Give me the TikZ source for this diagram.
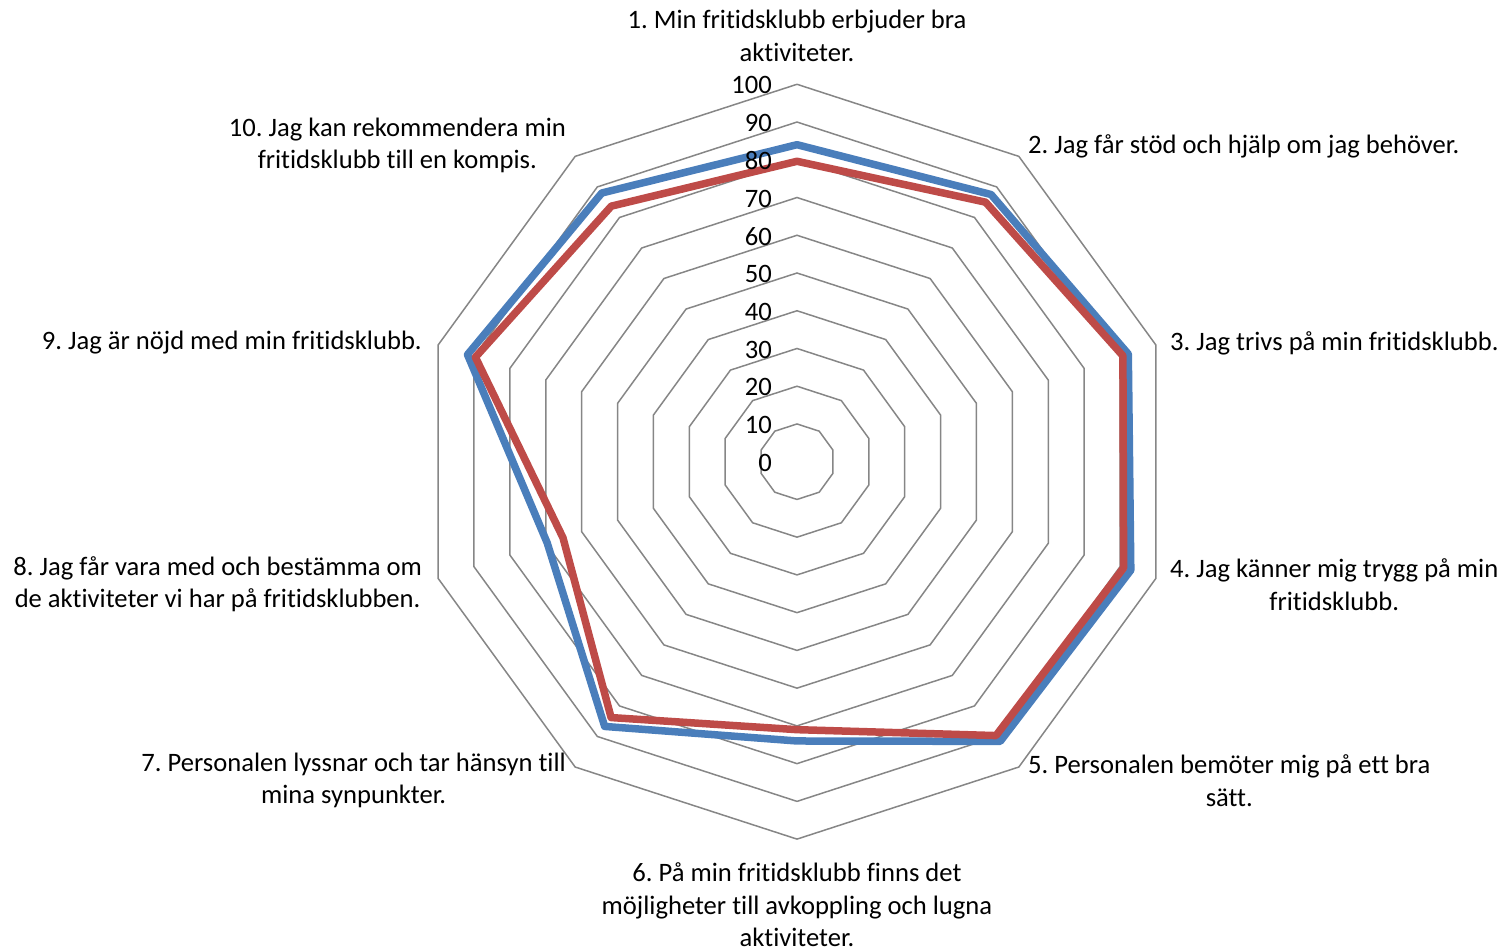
\documentclass[tikz,border=0pt]{standalone}
\usepackage{fontspec}
\setmainfont{Carlito}[Ligatures={NoCommon}]
\frenchspacing
\definecolor{gridgray}{HTML}{868686}
\definecolor{serblue}{HTML}{4A7EBB}
\definecolor{serred}{HTML}{BE4B48}
\begin{document}
\begin{tikzpicture}[x=1pt,y=-1pt,
  ring/.style={draw=gridgray,line width=1.5pt},
  series/.style={line width=7.5pt,line join=round},
  lbl/.style={font=\fontsize{26.6}{32.4}\selectfont,align=center,inner sep=0pt},
  tick/.style={font=\fontsize{26.6}{32.4}\selectfont,anchor=east,inner sep=0pt}]
\useasboundingbox (0,0) rectangle (1508,950);
\begin{scope}[shift={(797,461.7)}]
  \foreach \k in {1,...,10}{
    \draw[ring] (-90:{\k*37.74}) \foreach \i in {1,...,9}{ -- (-90+36*\i:{\k*37.74})} -- cycle;
  }
  \foreach \v [count=\i] in {84,87.5,92.3,93,91.6,74,86.7,69.6,91.8,88}
    \coordinate (b\i) at (-126+36*\i:{\v*3.774});
  \foreach \v [count=\i] in {79.6,85,90.8,91,89.7,71,83.8,65.2,89.6,83.7}
    \coordinate (r\i) at (-126+36*\i:{\v*3.774});
  \draw[series,serblue] (b1)--(b2)--(b3)--(b4)--(b5)--(b6)--(b7)--(b8)--(b9)--(b10)--cycle;
  \draw[series,serred] (r1)--(r2)--(r3)--(r4)--(r5)--(r6)--(r7)--(r8)--(r9)--(r10)--cycle;
  \foreach \k in {0,...,10}{
    \pgfmathtruncatemacro\lab{\k*10}
    \node[tick] (t\k) at (-25,{-\k*37.74+1}) {\lab};
  }
\end{scope}
\node[lbl] (l1) at (797,36) {1. Min fritidsklubb erbjuder bra\\aktiviteter.};
\node[lbl,anchor=west] (l2) at (1028,146) {2. Jag får stöd och hjälp om jag behöver.};
\node[lbl,anchor=west] (l3) at (1170,343) {3. Jag trivs på min fritidsklubb.};
\node[lbl,anchor=west] (l4) at (1170,584.5) {4. Jag känner mig trygg på min\\fritidsklubb.};
\node[lbl,anchor=west] (l5) at (1028,780.5) {5. Personalen bemöter mig på ett bra\\sätt.};
\node[lbl] (l6) at (797,905) {6. På min fritidsklubb finns det\\möjligheter till avkoppling och lugna\\aktiviteter.};
\node[lbl,anchor=east] (l7) at (566,780.5) {7. Personalen lyssnar och tar hänsyn till\\mina synpunkter.};
\node[lbl,anchor=east] (l8) at (422,584.5) {8. Jag får vara med och bestämma om\\de aktiviteter vi har på fritidsklubben.};
\node[lbl,anchor=east] (l9) at (422,343) {9. Jag är nöjd med min fritidsklubb.};
\node[lbl,anchor=east] (l10) at (566,145.5) {10. Jag kan rekommendera min\\fritidsklubb till en kompis.};
\end{tikzpicture}
\end{document}
